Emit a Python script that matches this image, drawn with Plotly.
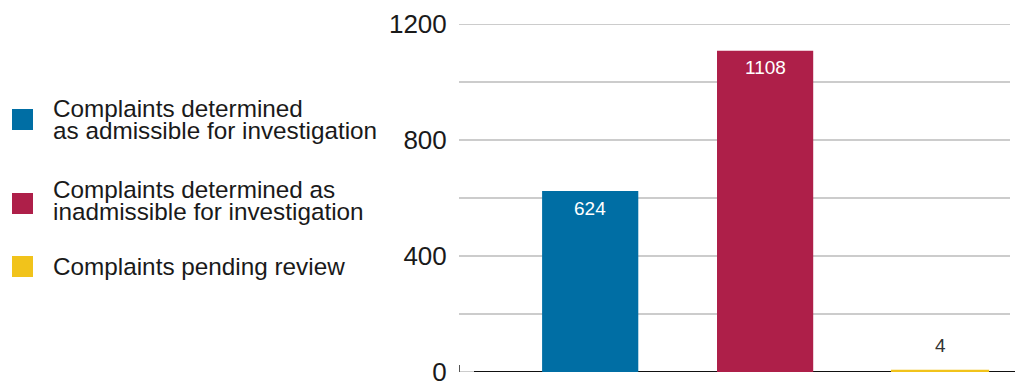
import plotly.graph_objects as go

# Complaint outcomes
categories = ["Admissible", "Inadmissible", "Pending"]
counts = [624, 1108, 4]
legend_lines = [
    ["Complaints determined", "as admissible for investigation"],
    ["Complaints determined as", "inadmissible for investigation"],
    ["Complaints pending review"],
]
grid_values = [0, 200, 400, 600, 800, 1000, 1200]
grid_labels = ["0", "", "400", "", "800", "", "1200"]
colors = ["#006ea4", "#ae1f49", "#f1c31b"]
label_colors = ["#ffffff", "#ffffff", "#333333"]

W, H = 1015, 385
ML, MR, MT, MB = 459, 5, 24, 13
PW, PH = W - ML - MR, H - MT - MB
FONT = "Liberation Sans, Arial, sans-serif"


def px_x(px):
    return (px - ML) / PW


def px_y(py):
    return (H - MB - py) / PH


fig = go.Figure()
fig.add_trace(go.Bar(
    x=categories,
    y=counts,
    width=0.55,
    marker=dict(color=colors, line=dict(color=colors, width=[0, 0, 2])),
    showlegend=False,
    hoverinfo="x+y",
))

# horizontal grid lines
for gv in grid_values:
    fig.add_shape(type="line", xref="paper", yref="y",
                  x0=0, x1=1, y0=gv, y1=gv,
                  line=dict(color="#cccccc", width=2), layer="below")

# value labels: inside the top of tall bars, above tiny ones
for cat, val, col in zip(categories, counts, label_colors):
    inside = val > 100
    fig.add_annotation(
        x=cat, y=val, text=str(val), showarrow=False,
        yanchor="middle", yshift=-17 if inside else 25,
        font=dict(family=FONT, size=19, color=col),
    )

# hand-built legend on the left
square_centers = [119.5, 203.5, 266.5]
line_centers = [[108, 130.5], [189.5, 211.5], [266.5]]
for col, cy, lines, ys in zip(colors, square_centers, legend_lines, line_centers):
    fig.add_shape(
        type="rect", xref="paper", yref="paper",
        x0=px_x(12), x1=px_x(33), y0=px_y(cy + 10.5), y1=px_y(cy - 10.5),
        fillcolor=col, line=dict(width=0),
    )
    for txt, ty in zip(lines, ys):
        fig.add_annotation(
            xref="paper", yref="paper", x=px_x(51), y=px_y(ty),
            xanchor="left", yanchor="middle", text=txt, showarrow=False,
            font=dict(family=FONT, size=24.3, color="#1a1a1a"),
        )

# black baseline and small tick at the axis start
fig.add_shape(type="line", xref="paper", yref="y",
              x0=px_x(474), x1=px_x(1015), y0=0, y1=0,
              line=dict(color="#111111", width=2), layer="below")
fig.add_shape(type="line", xref="paper", yref="paper",
              x0=px_x(459.5), x1=px_x(459.5), y0=px_y(365), y1=px_y(372),
              line=dict(color="#555555", width=1))

fig.update_layout(
    width=W, height=H,
    margin=dict(l=ML, r=MR, t=MT, b=MB),
    paper_bgcolor="white", plot_bgcolor="white",
    xaxis=dict(
        type="category", range=[-0.75, 2.4],
        showticklabels=False, showgrid=False, zeroline=False, showline=False,
        automargin=False,
    ),
    yaxis=dict(
        range=[0, 1200],
        tickmode="array", tickvals=grid_values, ticktext=grid_labels,
        showgrid=False, zeroline=False, showline=False,
        ticks="outside", ticklen=6, tickcolor="rgba(0,0,0,0)",
        ticklabeloverflow="allow", automargin=False,
        tickfont=dict(family=FONT, size=26, color="#1a1a1a"),
    ),
)

fig.write_html("out.html")
